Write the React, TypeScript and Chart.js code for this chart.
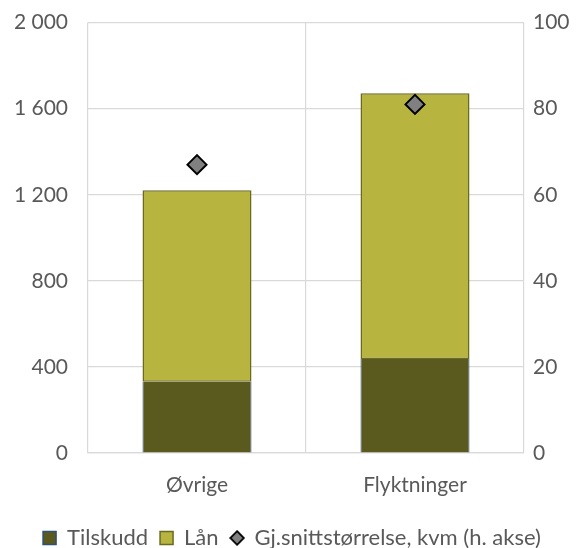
import React, { useEffect, useRef } from "react";
import { Chart, registerables } from "chart.js";

Chart.register(...registerables);

const categories = ["Øvrige", "Flyktninger"];
const tilskudd = [331, 437];
const laan = [890, 1235];
const snittKvm = [67, 81];

const FONT = "Lato";
const TEXT = "#595959";
const FS = 21;

const fmt = (v: number) => String(v).replace(/\B(?=(\d{3})+(?!\d))/g, " ");

function makeDiamond(size: number): HTMLCanvasElement {
  const c = document.createElement("canvas");
  c.width = size;
  c.height = size;
  const ctx = c.getContext("2d")!;
  const h = size / 2;
  ctx.beginPath();
  ctx.moveTo(h, 1.2);
  ctx.lineTo(size - 1.2, h);
  ctx.lineTo(h, size - 1.2);
  ctx.lineTo(1.2, h);
  ctx.closePath();
  ctx.fillStyle = "#808080";
  ctx.fill();
  ctx.lineWidth = 1.8;
  ctx.strokeStyle = "#000000";
  ctx.stroke();
  return c;
}

export default function App() {
  const ref = useRef<HTMLCanvasElement | null>(null);
  useEffect(() => {
    if (!ref.current) return;
    const diamond = makeDiamond(16);
    const chart = new Chart(ref.current, {
      type: "bar",
      data: {
        labels: categories,
        datasets: [
          {
            label: "Tilskudd",
            data: tilskudd,
            backgroundColor: "#5b5a1e",
            borderColor: "#2f5077",
            borderWidth: { left: 1, right: 1, top: 0, bottom: 0 },
            borderSkipped: false,
            yAxisID: "y",
            order: 2,
          } as any,
          {
            label: "Lån",
            data: laan,
            backgroundColor: "#b7b43f",
            borderColor: "#6b6a20",
            borderWidth: 1.5,
            borderSkipped: false,
            yAxisID: "y",
            order: 2,
          } as any,
          {
            type: "line",
            label: "Gj.snittstørrelse, kvm (h. akse)",
            data: snittKvm,
            showLine: false,
            pointStyle: "rectRot",
            pointRadius: 9.5,
            pointBackgroundColor: "#808080",
            pointBorderColor: "#000000",
            pointBorderWidth: 2,
            backgroundColor: "#808080",
            borderColor: "#000000",
            yAxisID: "y1",
            order: 1,
          } as any,
        ],
      },
      options: {
        animation: false,
        responsive: true,
        maintainAspectRatio: false,
        layout: { padding: { top: 0, left: 0, right: 0, bottom: -11 } },
        datasets: { bar: { barPercentage: 0.5, categoryPercentage: 1 } },
        plugins: {
          tooltip: { enabled: false },
          legend: {
            position: "bottom",
            labels: {
              color: TEXT,
              font: { family: FONT, size: 22 },
              usePointStyle: true,
              boxHeight: 13,
              boxWidth: 13,
              padding: 12,
              generateLabels: (c: any) =>
                c.data.datasets.map((ds: any, i: number) => ({
                  text: ds.label,
                  fillStyle: ds.backgroundColor,
                  strokeStyle: i === 0 ? "#2f5077" : i === 1 ? "#6b6a20" : "#000000",
                  lineWidth: 1.5,
                  pointStyle: i === 2 ? diamond : "rect",
                  fontColor: TEXT,
                  hidden: false,
                  datasetIndex: i,
                })),
            },
          },
        },
        scales: {
          x: {
            stacked: true,
            offset: true,
            grid: { offset: true, color: "#d9d9d9", lineWidth: 1.2, drawTicks: false },
            border: { color: "#d9d9d9", width: 1.2 },
            ticks: { color: TEXT, font: { family: FONT, size: FS }, padding: 20 },
            afterFit: (s: any) => {
              s.height = 62;
            },
          },
          y: {
            stacked: true,
            min: 0,
            max: 2000,
            position: "left",
            grid: {
              color: "#d9d9d9",
              lineWidth: 1.2,
              drawTicks: true,
              tickLength: 10,
              tickColor: "rgba(0,0,0,0)",
            },
            border: { display: false },
            ticks: {
              stepSize: 400,
              color: TEXT,
              font: { family: FONT, size: FS },
              padding: 10,
              callback: (v: any) => fmt(Number(v)),
            },
            afterFit: (s: any) => {
              s.width = 88;
            },
          },
          y1: {
            stacked: false,
            min: 0,
            max: 100,
            position: "right",
            grid: { display: false, drawTicks: false },
            border: { display: false },
            ticks: { stepSize: 20, color: TEXT, font: { family: FONT, size: FS }, padding: 9 },
            afterFit: (s: any) => {
              s.width = 60;
            },
          },
        },
      } as any,
    });
    return () => chart.destroy();
  }, []);
  return (
    <div style={{ position: "fixed", left: 0, top: 0, width: 584, height: 548, background: "#fff" }}>
      <canvas ref={ref} />
    </div>
  );
}
